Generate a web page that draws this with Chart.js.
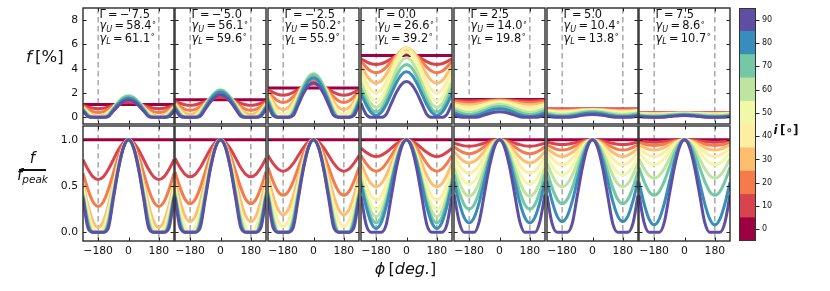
<!DOCTYPE html>
<html>
<head>
<meta charset="utf-8">
<script src="https://cdn.jsdelivr.net/npm/chart.js@4.4.1/dist/chart.umd.min.js"></script>
<style>
  html, body { margin: 0; padding: 0; background: #fff; }
  body { position: relative; width: 830px; height: 291px; overflow: hidden; font-family: "DejaVu Sans", sans-serif; color: #111; }
  canvas { position: absolute; }
  .ann { position: absolute; font-size: 11.4px; line-height: 11.6px; white-space: nowrap; }
  .sb { font-size: 8px; font-style: italic; position: relative; top: 2.5px; }
  .sp { font-size: 8px; position: relative; top: -4.5px; }
  .lbl { position: absolute; white-space: nowrap; }
</style>
</head>
<body>
<script>
// ---------------- data ----------------
const gammaValues = ['\u22127.5', '\u22125.0', '\u22122.5', '0.0', '2.5', '5.0', '7.5'];
const gammaUpper = ['58.4', '56.1', '50.2', '26.6', '14.0', '10.4', '8.6'];
const gammaLower = ['61.1', '59.6', '55.9', '39.2', '19.8', '13.8', '10.7'];
const inclinations = [0, 10, 20, 30, 40, 50, 60, 70, 80, 90];
// phase samples read for one half period (curves are symmetric & periodic)
const phiHalf = [0, 30, 60, 90, 120, 150, 180];
const phiGrid = [-270, -240, -210, -180, -150, -120, -90, -60, -30, 0, 30, 60, 90, 120, 150, 180, 210, 240, 270];
const xTickValues = [-180, 0, 180];
const dashPhi = [-180, 180];
const topYTicks = [0, 2, 4, 6, 8];
const bottomYTicks = [0, 0.5, 1.0];
const colorbarTicks = [0, 10, 20, 30, 40, 50, 60, 70, 80, 90];

// peak flux f_peak [%] per inclination (top row)
const peak_m75 = [1.05, 1.25, 1.43, 1.58, 1.70, 1.77, 1.79, 1.74, 1.60, 1.42];
const peak_m50 = [1.45, 1.65, 1.85, 2.02, 2.15, 2.23, 2.27, 2.22, 2.08, 1.85];
const peak_m25 = [2.42, 2.75, 3.05, 3.30, 3.48, 3.58, 3.60, 3.50, 3.25, 2.85];
const peak_00  = [5.08, 5.30, 5.55, 5.72, 5.70, 5.40, 4.90, 4.35, 3.75, 2.95];
const peak_25  = [1.46, 1.45, 1.42, 1.37, 1.30, 1.20, 1.07, 0.90, 0.70, 0.45];
const peak_50  = [0.69, 0.68, 0.67, 0.65, 0.62, 0.58, 0.52, 0.45, 0.36, 0.24];
const peak_75  = [0.36, 0.36, 0.355, 0.35, 0.34, 0.32, 0.29, 0.25, 0.20, 0.14];

// normalised light curves f/f_peak at phiHalf, one row per inclination
const norm_m75 = [
  [1, 1, 1, 1, 1, 1, 1],
  [1, .971, .893, .785, .678, .599, .57],
  [1, .952, .82, .64, .46, .328, .28],
  [1, .936, .763, .525, .288, .114, .05],
  [1, .931, .742, .485, .227, .038, 0],
  [1, .926, .725, .451, .176, 0, 0],
  [1, .923, .713, .425, .138, 0, 0],
  [1, .919, .701, .401, .102, 0, 0],
  [1, .917, .691, .383, .074, 0, 0],
  [1, .915, .682, .363, .045, 0, 0]
];
const norm_m50 = [
  [1, 1, 1, 1, 1, 1, 1],
  [1, .973, .9, .8, .7, .627, .6],
  [1, .954, .828, .655, .483, .356, .31],
  [1, .941, .779, .558, .336, .174, .115],
  [1, .932, .746, .492, .239, .053, 0],
  [1, .928, .731, .462, .194, 0, 0],
  [1, .924, .718, .435, .153, 0, 0],
  [1, .921, .706, .412, .118, 0, 0],
  [1, .918, .695, .39, .085, 0, 0],
  [1, .915, .684, .367, .051, 0, 0]
];
const norm_m25 = [
  [1, 1, 1, 1, 1, 1, 1],
  [1, .977, .915, .83, .745, .683, .66],
  [1, .96, .85, .7, .55, .44, .40],
  [1, .946, .798, .595, .393, .244, .19],
  [1, .937, .765, .53, .295, .123, .06],
  [1, .929, .737, .474, .211, .018, 0],
  [1, .926, .722, .444, .167, 0, 0],
  [1, .922, .709, .419, .128, 0, 0],
  [1, .919, .697, .394, .091, 0, 0],
  [1, .915, .684, .367, .051, 0, 0]
];
const norm_00 = [
  [1, 1, 1, 1, 1, 1, 1],
  [1, .988, .955, .91, .865, .832, .82],
  [1, .977, .915, .83, .745, .683, .66],
  [1, .966, .873, .745, .618, .524, .49],
  [1, .956, .838, .675, .513, .394, .35],
  [1, .95, .813, .625, .438, .30, .25],
  [1, .944, .793, .585, .378, .226, .17],
  [1, .94, .775, .55, .325, .16, .10],
  [1, .936, .76, .52, .28, .104, .04],
  [1, .918, .695, .39, .085, 0, 0]
];
const norm_25 = [
  [1, 1, 1, 1, 1, 1, 1],
  [1, .995, .983, .965, .948, .935, .93],
  [1, .99, .963, .925, .888, .86, .85],
  [1, .983, .938, .875, .813, .767, .75],
  [1, .976, .91, .82, .73, .664, .64],
  [1, .968, .88, .76, .64, .552, .52],
  [1, .959, .848, .695, .543, .431, .39],
  [1, .95, .813, .625, .438, .30, .25],
  [1, .94, .775, .55, .325, .16, .10],
  [1, .921, .706, .412, .118, 0, 0]
];
const norm_50 = [
  [1, 1, 1, 1, 1, 1, 1],
  [1, .997, .988, .975, .963, .953, .95],
  [1, .993, .973, .945, .918, .897, .89],
  [1, .988, .955, .91, .865, .832, .82],
  [1, .982, .933, .865, .798, .748, .73],
  [1, .975, .905, .81, .715, .645, .62],
  [1, .966, .873, .745, .618, .524, .49],
  [1, .954, .828, .655, .483, .356, .31],
  [1, .941, .779, .558, .336, .174, .115],
  [1, .919, .699, .398, .096, 0, 0]
];
const norm_75 = [
  [1, 1, 1, 1, 1, 1, 1],
  [1, .998, .994, .988, .981, .977, .975],
  [1, .996, .985, .97, .955, .944, .94],
  [1, .993, .973, .945, .918, .897, .89],
  [1, .988, .955, .91, .865, .832, .82],
  [1, .982, .933, .865, .798, .748, .73],
  [1, .972, .896, .793, .689, .613, .585],
  [1, .96, .85, .70, .55, .44, .40],
  [1, .938, .77, .54, .31, .142, .08],
  [1, .92, .702, .405, .107, 0, 0]
];

const peaks = [peak_m75, peak_m50, peak_m25, peak_00, peak_25, peak_50, peak_75];
const norms = [norm_m75, norm_m50, norm_m25, norm_00, norm_25, norm_50, norm_75];

// ---------------- styles ----------------
const lineColors = ['rgb(158,1,66)', 'rgb(216,67,78)', 'rgb(246,123,74)', 'rgb(253,191,111)', 'rgb(254,238,162)',
                    'rgb(241,249,169)', 'rgb(190,229,160)', 'rgb(117,200,165)', 'rgb(56,142,186)', 'rgb(94,79,162)'];
const panelLeft = [83, 175, 268, 361, 454, 547, 639];
const panelW = 91;
const rowTop = [8, 126];
const rowH = [116, 115];
const rowYRange = [[-0.55, 9.0], [-0.095, 1.15]];

Chart.defaults.font.family = '"DejaVu Sans", sans-serif';
Chart.defaults.color = '#111';

function valueAt(half, phi) {
  let a = ((phi % 360) + 360) % 360;
  if (a > 180) a = 360 - a;
  return half[phiHalf.indexOf(a)];
}

const deco = {
  id: 'deco',
  beforeDatasetsDraw(chart) {
    const { ctx, chartArea: a, scales: { x } } = chart;
    ctx.save();
    ctx.strokeStyle = '#a8a8a8';
    ctx.lineWidth = 1.5;
    ctx.setLineDash([5.5, 3.5]);
    for (const v of dashPhi) {
      const px = x.getPixelForValue(v);
      ctx.beginPath(); ctx.moveTo(px, a.top); ctx.lineTo(px, a.bottom); ctx.stroke();
    }
    ctx.restore();
  },
  afterDatasetsDraw(chart) {
    const { ctx, chartArea: a, scales: { x, y } } = chart;
    ctx.save();
    ctx.strokeStyle = '#222';
    ctx.lineWidth = 1;
    const tl = 3.5;
    ctx.beginPath();
    for (const t of x.ticks) {
      const px = Math.round(x.getPixelForValue(t.value)) + 0.5;
      ctx.moveTo(px, a.top); ctx.lineTo(px, a.top + tl);
      ctx.moveTo(px, a.bottom); ctx.lineTo(px, a.bottom - tl);
    }
    for (const t of y.ticks) {
      const py = Math.round(y.getPixelForValue(t.value)) + 0.5;
      ctx.moveTo(a.left, py); ctx.lineTo(a.left + tl, py);
      ctx.moveTo(a.right, py); ctx.lineTo(a.right - tl, py);
    }
    ctx.stroke();
    ctx.strokeStyle = '#2b2b2b';
    ctx.lineWidth = 1.4;
    ctx.strokeRect(a.left, a.top, a.right - a.left, a.bottom - a.top);
    ctx.restore();
  }
};

function makePanel(col, row) {
  const L = panelLeft[col], T = rowTop[row], H = rowH[row];
  const padL = col === 0 ? 42 : 2;
  const padB = row === 1 ? 24 : 2;
  const cv = document.createElement('canvas');
  cv.width = padL + panelW + 2;
  cv.height = 2 + H + padB;
  cv.style.left = (L - padL) + 'px';
  cv.style.top = (T - 2) + 'px';
  cv.style.width = cv.width + 'px';
  cv.style.height = cv.height + 'px';
  document.body.appendChild(cv);

  const datasets = inclinations.map((inc, k) => ({
    label: 'i=' + inc,
    data: phiGrid.map(phi => ({
      x: phi,
      y: row === 0 ? valueAt(norms[col][k], phi) * peaks[col][k] : valueAt(norms[col][k], phi)
    })),
    borderColor: lineColors[k],
    borderWidth: 3,
    pointRadius: 0,
    fill: false,
    cubicInterpolationMode: 'monotone',
    clip: 0,
    order: 9 - k
  }));

  const yTicks = row === 0 ? topYTicks : bottomYTicks;
  new Chart(cv, {
    type: 'line',
    data: { datasets },
    options: {
      responsive: false,
      animation: false,
      devicePixelRatio: 1,
      events: [],
      layout: { padding: { top: 2, right: 2, left: 0, bottom: 0 } },
      plugins: { legend: { display: false }, tooltip: { enabled: false } },
      scales: {
        x: {
          type: 'linear', min: -270, max: 270,
          grid: { display: false, drawTicks: false }, border: { display: false },
          afterBuildTicks: s => { s.ticks = xTickValues.map(v => ({ value: v })); },
          ticks: {
            display: row === 1, autoSkip: false, maxRotation: 0, padding: 4,
            font: { size: 10.8 }, color: '#111',
            callback: v => v < 0 ? '\u2212' + Math.abs(v) : String(v)
          },
          afterFit: s => { s.height = padB; s.paddingLeft = 0; s.paddingRight = 0; }
        },
        y: {
          type: 'linear', min: rowYRange[row][0], max: rowYRange[row][1],
          grid: { display: false, drawTicks: false }, border: { display: false },
          afterBuildTicks: s => { s.ticks = yTicks.map(v => ({ value: v })); },
          ticks: {
            display: col === 0, autoSkip: false, padding: 5,
            font: { size: 10.8 }, color: '#111',
            callback: v => row === 0 ? String(v) : Number(v).toFixed(1)
          },
          afterFit: s => { s.width = padL; s.paddingTop = 0; s.paddingBottom = 0; }
        }
      }
    },
    plugins: [deco]
  });
}

for (let r = 0; r < 2; r++) for (let c = 0; c < 7; c++) makePanel(c, r);

// annotations in top panels
for (let c = 0; c < 7; c++) {
  const d = document.createElement('div');
  d.className = 'ann';
  d.style.left = (panelLeft[c] + 16.5) + 'px';
  d.style.top = '8.6px';
  d.innerHTML = '\u0393\u2009=\u2009' + gammaValues[c].replace('\u2212', '\u2212\u2009') + '<br>' +
    '<i>\u03b3</i><span class="sb">U</span>\u2009=\u2009' + gammaUpper[c] + '<span class="sp">\u2218</span><br>' +
    '<i>\u03b3</i><span class="sb">L</span>\u2009=\u2009' + gammaLower[c] + '<span class="sp">\u2218</span>';
  document.body.appendChild(d);
}

// colorbar
(function () {
  const cv = document.createElement('canvas');
  cv.width = 2 + 17 + 40; cv.height = 2 + 233 + 2;
  cv.style.left = '737px'; cv.style.top = '6px';
  cv.style.width = cv.width + 'px'; cv.style.height = cv.height + 'px';
  document.body.appendChild(cv);
  const cbDeco = {
    id: 'cbDeco',
    afterDatasetsDraw(chart) {
      const { ctx, chartArea: a, scales: { y } } = chart;
      ctx.save();
      ctx.strokeStyle = '#222'; ctx.lineWidth = 1;
      ctx.beginPath();
      for (const t of y.ticks) {
        const py = Math.round(y.getPixelForValue(t.value)) + 0.5;
        ctx.moveTo(a.right, py); ctx.lineTo(a.right + 3.5, py);
      }
      ctx.stroke();
      ctx.strokeStyle = '#333'; ctx.lineWidth = 1;
      ctx.strokeRect(a.left + 0.5, a.top + 0.5, a.right - a.left - 1, a.bottom - a.top - 1);
      ctx.restore();
    }
  };
  new Chart(cv, {
    type: 'bar',
    data: {
      labels: ['i'],
      datasets: inclinations.map((inc, k) => ({
        data: [[inc - 5, inc + 5]],
        backgroundColor: lineColors[k],
        borderWidth: 0,
        barPercentage: 1, categoryPercentage: 1, grouped: false
      }))
    },
    options: {
      responsive: false, animation: false, devicePixelRatio: 1, events: [],
      layout: { padding: { top: 2, left: 2, right: 0, bottom: 0 } },
      plugins: { legend: { display: false }, tooltip: { enabled: false } },
      scales: {
        x: {
          grid: { display: false, drawTicks: false }, border: { display: false }, ticks: { display: false },
          afterFit: s => { s.height = 2; s.paddingLeft = 0; s.paddingRight = 0; }
        },
        y: {
          position: 'right', min: -5, max: 95,
          grid: { display: false, drawTicks: false }, border: { display: false },
          afterBuildTicks: s => { s.ticks = colorbarTicks.map(v => ({ value: v })); },
          ticks: { padding: 6, font: { size: 8 }, color: '#111' },
          afterFit: s => { s.width = 40; s.paddingTop = 0; s.paddingBottom = 0; }
        }
      }
    },
    plugins: [cbDeco]
  });
})();

// axis labels
function addLabel(html, css) {
  const d = document.createElement('div');
  d.className = 'lbl';
  d.innerHTML = html;
  Object.assign(d.style, css);
  document.body.appendChild(d);
}
addLabel('<i>f</i>\u2009[%]', { left: '26px', top: '49px', fontSize: '16.5px', lineHeight: '16.5px' });
addLabel('<i>f</i>', { left: '19px', top: '150.6px', width: '27px', textAlign: 'center', fontSize: '15px', lineHeight: '15px' });
addLabel('', { left: '19px', top: '169.4px', width: '27px', height: '1.2px', background: '#111' });
addLabel('<i>f</i><span style="font-size:10.5px;position:relative;top:3px;font-style:italic">peak</span>',
         { left: '15px', top: '167.5px', width: '35px', textAlign: 'center', fontSize: '15px', lineHeight: '15px' });
addLabel('<i>\u03d5</i>\u2009[<i>deg.</i>]', { left: '345.5px', top: '260.7px', width: '120px', textAlign: 'center', fontSize: '16px', lineHeight: '16px' });
addLabel('<i>i</i>\u2009[\u2218]', { left: '773.5px', top: '124px', fontSize: '12px', lineHeight: '12px', fontWeight: 'bold' });
</script>
</body>
</html>
